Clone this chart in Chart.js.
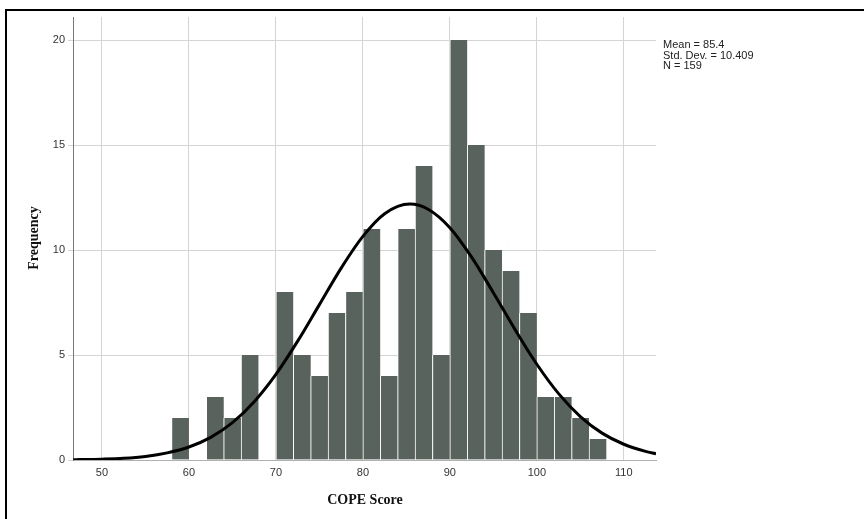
<!DOCTYPE html>
<html lang="en">
<head>
  <meta charset="UTF-8">
  <title>COPE Score histogram</title>
  <script src="https://cdn.jsdelivr.net/npm/chart.js"></script>
  <style>
    html, body { margin: 0; padding: 0; background: #fff; }
    #wrap { width: 864px; height: 519px; position: relative; }
  </style>
</head>
<body>
  <div id="wrap"><canvas id="myChart" width="864" height="519"></canvas></div>
  <script>
    // histogram bins (centre of each 2-point bin) and counts
    const binCenters = [59, 61, 63, 65, 67, 69, 71, 73, 75, 77, 79, 81, 83, 85, 87, 89, 91, 93, 95, 97, 99, 101, 103, 105, 107];
    const frequencies = [2, 0, 3, 2, 5, 0, 8, 5, 4, 7, 8, 11, 4, 11, 14, 5, 20, 15, 10, 9, 7, 3, 3, 2, 1];

    // normal curve
    const curveX = [46.7, 47.5, 50, 52.5, 55, 57.5, 60, 62.5, 65, 67.5, 70, 72.5, 75, 77.5, 80, 82.5, 85.4, 87.5, 90, 92.5, 95, 97.5, 100, 102.5, 105, 107.5, 110, 112.5, 113.7];
    const curveY = [0.01, 0.02, 0.04, 0.08, 0.17, 0.34, 0.62, 1.08, 1.78, 2.78, 4.08, 5.66, 7.4, 9.14, 10.65, 11.73, 12.19, 11.94, 11.06, 9.66, 7.97, 6.21, 4.56, 3.16, 2.07, 1.28, 0.75, 0.41, 0.3];

    const xTicks = [50, 60, 70, 80, 90, 100, 110];
    const yTicks = [0, 5, 10, 15, 20];
    const statLines = ['Mean = 85.4', 'Std. Dev. = 10.409', 'N = 159'];

    const extras = {
      id: 'extras',
      afterDraw(chart) {
        const c = chart.ctx;
        c.save();
        // frame
        c.fillStyle = '#000';
        c.fillRect(5, 9, 2, 510);
        c.fillRect(5, 9, 859, 2);
        // axis titles
        c.fillStyle = '#111';
        c.font = 'bold 14px "Liberation Serif", "Times New Roman", serif';
        c.textAlign = 'center';
        c.textBaseline = 'middle';
        c.fillText('COPE Score', 365, 500);
        c.translate(34, 238);
        c.rotate(-Math.PI / 2);
        c.fillText('Frequency', 0, 0);
        c.restore();
        // stats box
        c.save();
        c.fillStyle = '#222';
        c.font = '11px "Liberation Sans", Arial, sans-serif';
        c.textAlign = 'left';
        c.textBaseline = 'middle';
        statLines.forEach((s, i) => c.fillText(s, 663, 45 + i * 10.5));
        c.restore();
      }
    };

    const ctx = document.getElementById('myChart').getContext('2d');
    new Chart(ctx, {
      type: 'bar',
      data: {
        datasets: [{
          type: 'line',
          data: curveX.map((x, i) => ({ x: x, y: curveY[i] })),
          borderColor: '#000',
          borderWidth: 3,
          pointRadius: 0,
          cubicInterpolationMode: 'monotone',
          fill: false,
          order: 0
        }, {
          type: 'bar',
          data: binCenters.map((x, i) => ({ x: x, y: frequencies[i] })),
          backgroundColor: '#59635d',
          borderColor: '#fff',
          borderWidth: { left: 1, right: 0, top: 0, bottom: 0 },
          borderSkipped: false,
          barPercentage: 1,
          categoryPercentage: 1,
          order: 1
        }]
      },
      options: {
        responsive: false,
        animation: false,
        layout: { padding: { left: 0, top: 17, right: 208, bottom: 0 } },
        plugins: { legend: { display: false }, tooltip: { enabled: false } },
        scales: {
          x: {
            type: 'linear',
            min: 46.67,
            max: 113.7,
            offset: false,
            afterBuildTicks: s => { s.ticks = xTicks.map(v => ({ value: v })); },
            afterFit: s => { s.height = 59; },
            grid: { offset: false, color: '#d4d4d4', drawTicks: false },
            border: { color: '#b0b0b0', width: 1 },
            ticks: {
              padding: 6,
              color: '#333',
              font: { family: '"Liberation Sans", Arial, sans-serif', size: 11 }
            }
          },
          y: {
            min: 0,
            max: 21.1,
            afterBuildTicks: s => { s.ticks = yTicks.map(v => ({ value: v })); },
            afterFit: s => { s.width = 73; },
            grid: { color: '#d4d4d4', tickLength: 5 },
            border: { color: '#777', width: 1 },
            ticks: {
              padding: 3,
              color: '#333',
              font: { family: '"Liberation Sans", Arial, sans-serif', size: 11 }
            }
          }
        }
      },
      plugins: [extras]
    });
  </script>
</body>
</html>
